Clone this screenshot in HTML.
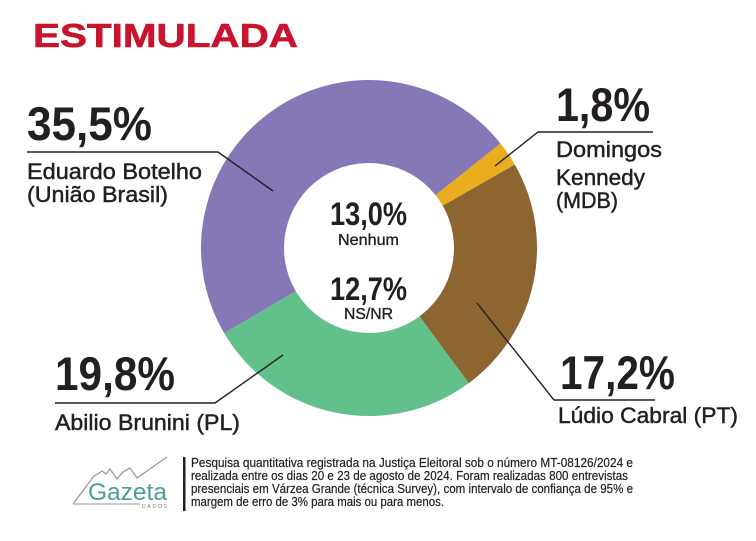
<!DOCTYPE html>
<html>
<head>
<meta charset="utf-8">
<style>
html,body{margin:0;padding:0;background:#fff;}
svg{display:block;}
text{font-family:"Liberation Sans",Arial,sans-serif;}
</style>
</head>
<body>
<svg width="756" height="541" viewBox="0 0 756 541" xmlns="http://www.w3.org/2000/svg">
<rect width="756" height="541" fill="#fff"/>
<!-- Title -->
<text x="33" y="47" font-size="33" font-weight="bold" fill="#C8142F" stroke="#C8142F" stroke-width="0.6" textLength="265" lengthAdjust="spacingAndGlyphs">ESTIMULADA</text>

<!-- Donut -->
<path d="M224.25,333.27 A168,168 0 0 1 500.49,143.44 L435.53,195.10 A85,85 0 0 0 295.76,291.14 Z" fill="#8677B7"/>
<path d="M500.49,143.44 A168,168 0 0 1 514.82,164.57 L442.78,205.79 A85,85 0 0 0 435.53,195.10 Z" fill="#E9AD1D"/>
<path d="M514.82,164.57 A168,168 0 0 1 468.78,383.16 L419.48,316.38 A85,85 0 0 0 442.78,205.79 Z" fill="#8C6531"/>
<path d="M468.78,383.16 A168,168 0 0 1 224.25,333.27 L295.76,291.14 A85,85 0 0 0 419.48,316.38 Z" fill="#62C08A"/>

<!-- Leader lines -->
<g fill="none" stroke="#222" stroke-width="1.4">
<polyline points="27,152 218,152 273,191"/>
<polyline points="495,166 538,132 653,132"/>
<polyline points="477,303 554,400 655,400"/>
<polyline points="283,355 215,403 55,403"/>
</g>

<!-- Labels -->
<g fill="#231F20">
<text x="27" y="140" font-size="47" font-weight="bold" textLength="125" lengthAdjust="spacingAndGlyphs">35,5%</text>
<text x="556" y="121" font-size="47" font-weight="bold" textLength="94" lengthAdjust="spacingAndGlyphs">1,8%</text>
<text x="560" y="389" font-size="47" font-weight="bold" textLength="115" lengthAdjust="spacingAndGlyphs">17,2%</text>
<text x="55" y="390" font-size="47" font-weight="bold" textLength="120" lengthAdjust="spacingAndGlyphs">19,8%</text>
<text x="330" y="225" font-size="32" font-weight="bold" textLength="77" lengthAdjust="spacingAndGlyphs">13,0%</text>
<text x="330" y="300" font-size="32" font-weight="bold" textLength="77" lengthAdjust="spacingAndGlyphs">12,7%</text>
</g>
<g fill="#231F20" stroke="#231F20" stroke-width="0.45">
<text x="27" y="179" font-size="22" textLength="175" lengthAdjust="spacingAndGlyphs">Eduardo Botelho</text>
<text x="27" y="202" font-size="22" textLength="141" lengthAdjust="spacingAndGlyphs">(União Brasil)</text>
<text x="556" y="157" font-size="22" textLength="106" lengthAdjust="spacingAndGlyphs">Domingos</text>
<text x="556" y="185" font-size="22" textLength="89" lengthAdjust="spacingAndGlyphs">Kennedy</text>
<text x="556" y="208" font-size="22" textLength="62" lengthAdjust="spacingAndGlyphs">(MDB)</text>
<text x="558" y="423" font-size="22" textLength="180" lengthAdjust="spacingAndGlyphs">Lúdio Cabral (PT)</text>
<text x="55" y="430" font-size="22" textLength="185" lengthAdjust="spacingAndGlyphs">Abilio Brunini (PL)</text>
<text x="338" y="245" font-size="16" stroke-width="0.35" textLength="61" lengthAdjust="spacingAndGlyphs">Nenhum</text>
<text x="344" y="319" font-size="16" stroke-width="0.35" textLength="49" lengthAdjust="spacingAndGlyphs">NS/NR</text>
</g>

<!-- Logo -->
<polyline points="73,504 94,476 98,474 102,471 106,474 110,469 117,479 123,472 130,468 137,478 167,457" fill="none" stroke="#9a9a9a" stroke-width="1.3"/>
<line x1="73" y1="504" x2="140" y2="504" stroke="#9a9a9a" stroke-width="1"/>
<text x="88" y="500" font-size="24" fill="#4E9C97" textLength="79" lengthAdjust="spacingAndGlyphs">Gazeta</text>
<text x="142" y="508" font-size="5" fill="#777" textLength="25" lengthAdjust="spacing">DADOS</text>

<!-- Footer -->
<rect x="183" y="457" width="2.5" height="54" fill="#231F20"/>
<g fill="#231F20" stroke="#231F20" stroke-width="0.2" font-size="12.5">
<text x="191" y="467" textLength="442" lengthAdjust="spacingAndGlyphs">Pesquisa quantitativa registrada na Justiça Eleitoral sob o número MT-08126/2024 e</text>
<text x="191" y="480" textLength="437" lengthAdjust="spacingAndGlyphs">realizada entre os dias 20 e 23 de agosto de 2024. Foram realizadas 800 entrevistas</text>
<text x="191" y="493" textLength="442" lengthAdjust="spacingAndGlyphs">presenciais em Várzea Grande (técnica Survey), com intervalo de confiança de 95% e</text>
<text x="191" y="506" textLength="253" lengthAdjust="spacingAndGlyphs">margem de erro de 3% para mais ou para menos.</text>
</g>
</svg>
</body>
</html>
